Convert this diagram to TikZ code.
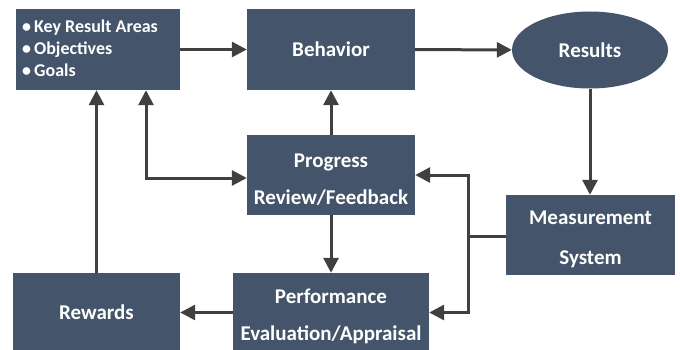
\documentclass[tikz,border=0pt]{standalone}
\usepackage{fontspec}
\setmainfont{Carlito}
\usepackage{tikz}
\usetikzlibrary{arrows.meta,shapes.geometric}
\definecolor{slate}{RGB}{68,84,106}
\definecolor{arrowgrey}{RGB}{64,64,64}
\newcommand{\boxstrut}{\rule{0pt}{23pt}}

\begin{document}
\begin{tikzpicture}[x=1pt,y=-1pt,
  box/.style={rectangle,fill=slate,text=white,font=\bfseries\fontsize{21}{37}\selectfont,align=center,inner sep=0pt},
  flow/.style={draw=arrowgrey,line width=3pt,-{Triangle[length=15pt,width=15pt]}},
  line/.style={draw=arrowgrey,line width=3pt}]
\useasboundingbox (0,0) rectangle (680,350);
\node[box,minimum width=164pt,minimum height=81pt] (kra) at (98,49.5) {};
\node[font=\bfseries\fontsize{18}{22}\selectfont,text=white,align=left,anchor=north west,inner sep=0pt] (kralist) at (22,20) {\textbullet\,Key Result Areas\\ \textbullet\,Objectives\\ \textbullet\,Goals};
\node[box,minimum width=168pt,minimum height=81pt] (behav) at (331,49.5) {Behavior};
\node[ellipse,fill=slate,text=white,font=\bfseries\fontsize{21}{37}\selectfont,minimum width=156pt,minimum height=77pt,inner sep=0pt] (results) at (590,50) {Results};
\node[box,minimum width=168pt,minimum height=80pt] (progress) at (331,175) {\boxstrut Progress\\Review/Feedback};
\node[box,minimum width=169pt,minimum height=80pt] (measure) at (590.5,235) {\boxstrut Measurement\\[3pt]System};
\node[box,minimum width=196pt,minimum height=79pt] (perf) at (331,312.5) {\boxstrut Performance\\Evaluation/Appraisal};
\node[box,minimum width=167pt,minimum height=79pt] (rewards) at (96.5,312.5) {Rewards};
% connectors
\draw[flow] (kra) -- (behav);
\draw[flow] (behav) -- (results);
\draw[flow] (results.south) -- (results.south |- measure.north);
\draw[flow] (progress) -- (behav);
\draw[flow] (progress) -- (perf);
\draw[flow] (perf) -- (rewards);
\draw[flow] (rewards.north) -- (rewards.north |- kra.south);
\draw[flow,{Triangle[length=15pt,width=15pt]}-{Triangle[length=15pt,width=15pt]}] ([xshift=48pt]kra.south) |- ([yshift=-3pt]progress.west);
\coordinate (junc) at (468,236);
\draw[line] (measure.west |- junc) -- (junc);
\draw[flow] ([yshift=-1.5pt]junc) |- (progress.east);
\draw[flow] ([yshift=1.5pt]junc) |- (perf.east);
\end{tikzpicture}
\end{document}
